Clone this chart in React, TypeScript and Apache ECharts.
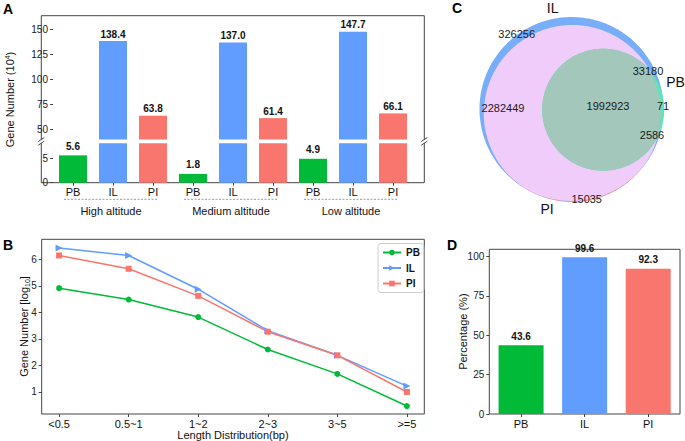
import React, { useEffect, useRef } from "react";
import * as echarts from "echarts";

// ---------- Data ----------
const groupNamesA = ["High altitude", "Medium altitude", "Low altitude"];
const speciesA = ["PB", "IL", "PI"];
const pbA = [5.6, 1.8, 4.9];
const ilA = [138.4, 137.0, 147.7];
const piA = [63.8, 61.4, 66.1];
const upperTicksA = [50, 75, 100, 125, 150];
const lowerTicksA = [0, 5];

const lengthCats = ["<0.5", "0.5~1", "1~2", "2~3", "3~5", ">=5"];
const pbB = [4.91, 4.48, 3.82, 2.6, 1.68, 0.47];
const ilB = [6.42, 6.14, 4.87, 3.31, 2.38, 1.22];
const piB = [6.14, 5.64, 4.62, 3.27, 2.38, 1.0];
const ticksB = [1, 2, 3, 4, 5, 6];

const vennSetNames = ["IL", "PB", "PI"];
const vennRegionCounts = [326256, 33180, 2282449, 1992923, 71, 2586, 15035];

const speciesD = ["PB", "IL", "PI"];
const pctD = [43.6, 99.6, 92.3];
const ticksD = [0, 25, 50, 75, 100];

// ---------- Styles ----------
const FONT = "'Liberation Sans', Arial, Helvetica, sans-serif";
const speciesColors: Record<string, string> = { PB: "#00BA38", IL: "#619CFF", PI: "#F8766D" };
const AX = "#444";

type Pt = [number, number];
function circlePts(cx: number, cy: number, r: number, n = 240): Pt[] {
  const pts: Pt[] = [];
  for (let i = 0; i < n; i++) {
    const t = (i / n) * Math.PI * 2;
    pts.push([cx + r * Math.cos(t), cy + r * Math.sin(t)]);
  }
  return pts;
}
function clipPoly(subject: Pt[], clipper: Pt[]): Pt[] {
  let output = subject;
  for (let i = 0; i < clipper.length; i++) {
    const a = clipper[i];
    const b = clipper[(i + 1) % clipper.length];
    const input = output;
    output = [];
    if (!input.length) break;
    const side = (p: Pt) => (b[0] - a[0]) * (p[1] - a[1]) - (b[1] - a[1]) * (p[0] - a[0]);
    const inter = (p: Pt, q: Pt): Pt => {
      const sp = side(p), sq = side(q);
      const t = sp / (sp - sq);
      return [p[0] + (q[0] - p[0]) * t, p[1] + (q[1] - p[1]) * t];
    };
    for (let j = 0; j < input.length; j++) {
      const cur = input[j];
      const prev = input[(j + input.length - 1) % input.length];
      const ci = side(cur) >= 0, pi = side(prev) >= 0;
      if (ci) {
        if (!pi) output.push(inter(prev, cur));
        output.push(cur);
      } else if (pi) output.push(inter(prev, cur));
    }
  }
  return output;
}

export default function App() {
  const ref = useRef<HTMLDivElement>(null);
  useEffect(() => {
    if (!ref.current) return;
    const chart = echarts.init(ref.current, undefined, { renderer: "svg" });

    // ----- Panel A layout -----
    const aL = 41.3, aR = 424.3, aT = 15.7, aB = 182.7, gU = 139.5, gL = 143.2;
    const aGridLeft = 53, aGridW = 360;
    const catsA: string[] = [];
    const valsA: { v: number; s: string }[] = [];
    groupNamesA.forEach((_, g) => {
      speciesA.forEach((s) => {
        catsA.push(s);
        const v = s === "PB" ? pbA[g] : s === "IL" ? ilA[g] : piA[g];
        valsA.push({ v, s });
      });
    });
    const lblStyle = { fontWeight: "bold" as const, fontSize: 10, color: "#111", fontFamily: FONT };
    const mkA = (showPB: boolean, dist: number) =>
      valsA.map(({ v, s }) => ({
        value: v,
        itemStyle: { color: speciesColors[s] },
        label: {
          show: showPB ? s === "PB" : s !== "PB",
          position: "top",
          distance: dist,
          formatter: (p: any) => Number(p.value).toFixed(1),
          ...lblStyle,
        },
      }));

    // ----- Panel B layout -----
    const bL = 41.7, bT = 239.3, bW = 382.6, bH = 174.7;
    // ----- Panel D layout -----
    const dL = 489.3, dT = 249.3, dW = 190.7, dH = 164.7;

    // ----- Venn -----
    const cIL = circlePts(571.5, 109, 92);
    const cPI = circlePts(572.3, 113.5, 88.5);
    const cPB = circlePts(603.2, 109.7, 61);
    const ilpi = clipPoly(cIL, cPI);
    const triple = clipPoly(clipPoly(cPB, cIL), cPI);
    const vennPos: Pt[] = [
      [516.7, 33.5], [648, 71], [503, 107.5], [608, 106], [663, 105.5], [652, 135], [586.7, 198.5],
    ];
    const setLabelPos: Pt[] = [[552.7, 7.5], [675.5, 82], [547, 209]];

    const tickLine = { show: true, length: 3, lineStyle: { color: AX, width: 1 } };
    const ticksLabel = { fontSize: 10, color: "#222", fontFamily: FONT };

    const txt = (x: number, y: number, text: string, extra: any = {}, rot = 0): any => ({
      type: "text",
      x,
      y,
      rotation: rot,
      silent: true,
      style: {
        text,
        fontFamily: FONT,
        fontSize: 11,
        fill: "#111",
        align: "center",
        verticalAlign: "middle",
        ...extra,
      },
    });
    const line = (x1: number, y1: number, x2: number, y2: number, extra: any = {}): any => ({
      type: "line",
      silent: true,
      shape: { x1, y1, x2, y2 },
      style: { stroke: AX, lineWidth: 1, ...extra },
    });

    const graphics: any[] = [];
    // Venn shapes
    graphics.push({ type: "polygon", silent: true, shape: { points: cPI }, style: { fill: "#F29490" } });
    graphics.push({ type: "polygon", silent: true, shape: { points: cIL }, style: { fill: "#78AEF8" } });
    graphics.push({ type: "polygon", silent: true, shape: { points: ilpi }, style: { fill: "#F0CCFB" } });
    graphics.push({ type: "polygon", silent: true, shape: { points: cPB }, style: { fill: "#5EE6B5" } });
    graphics.push({ type: "polygon", silent: true, shape: { points: triple }, style: { fill: "#A3C7BB" } });
    vennRegionCounts.forEach((c, i) => graphics.push(txt(vennPos[i][0], vennPos[i][1], String(c), { fontSize: 11, fill: "#1a1a1a" })));
    vennSetNames.forEach((n, i) => graphics.push(txt(setLabelPos[i][0], setLabelPos[i][1], n, { fontSize: 14, fill: "#111" })));

    // Panel A frame (broken axis)
    graphics.push(line(aL, aT, aR, aT));
    graphics.push(line(aL, aB, aR, aB));
    graphics.push(line(aL, aT, aL, gU));
    graphics.push(line(aL, gL, aL, aB));
    graphics.push(line(aR, aT, aR, gU));
    graphics.push(line(aR, gL, aR, aB));
    [aL, aR].forEach((x) => {
      graphics.push(line(x - 3, gU + 2, x + 3, gU - 2));
      graphics.push(line(x - 3, gL + 2, x + 3, gL - 2));
    });
    // group dashed lines & labels
    const catW = aGridW / catsA.length;
    groupNamesA.forEach((g, i) => {
      const cx = aGridLeft + (3 * i + 1.5) * catW - 2;
      graphics.push(line(cx - 47, 199.3, cx + 47, 199.3, { stroke: "#999", lineDash: [2, 1.5] }));
      graphics.push(txt(cx, 211, g, { fontSize: 11 }));
    });
    // axis titles
    graphics.push(
      txt(10, 99.5, "Gene Number (10{sup|4})", {
        fontSize: 11,
        rich: { sup: { fontSize: 7, verticalAlign: "top", padding: [0, 0, 6, 0], fontFamily: FONT } },
      }, Math.PI / 2)
    );
    graphics.push(
      txt(24, 326.5, "Gene Number [log{sub|10}]", {
        fontSize: 11,
        rich: { sub: { fontSize: 7, verticalAlign: "bottom", padding: [6, 0, 0, 0], fontFamily: FONT } },
      }, Math.PI / 2)
    );
    graphics.push(txt(bL + bW / 2, 434.5, "Length Distribution(bp)", { fontSize: 11 }));
    graphics.push(txt(463.3, dT + dH / 2, "Percentage (%)", { fontSize: 11 }, Math.PI / 2));
    // panel letters
    const letter = { fontSize: 14, fontWeight: "bold", fill: "#000" };
    graphics.push(txt(8, 9, "A", letter));
    graphics.push(txt(8, 245, "B", letter));
    graphics.push(txt(457, 8, "C", letter));
    graphics.push(txt(452, 245, "D", letter));

    const option: any = {
      animation: false,
      textStyle: { fontFamily: FONT },
      legend: {
        data: ["PB", "IL", "PI"],
        orient: "vertical",
        left: 378,
        top: 243.5,
        padding: [4, 4, 4, 4],
        itemWidth: 18,
        itemHeight: 7,
        itemGap: 5.5,
        borderColor: "#ccc",
        borderWidth: 1,
        borderRadius: 3,
        textStyle: { fontWeight: "bold", fontSize: 10, color: "#111", fontFamily: FONT, padding: [0, 0, 0, 0] },
      },
      grid: [
        { left: aGridLeft, width: aGridW, top: aT, height: gU - aT },
        { left: aGridLeft, width: aGridW, top: gL, height: aB - gL },
        { left: bL, width: bW, top: bT, height: bH, show: true, borderColor: AX, borderWidth: 1, backgroundColor: "transparent" },
        { left: dL, width: dW, top: dT, height: dH, show: true, borderColor: AX, borderWidth: 1, backgroundColor: "transparent" },
      ],
      xAxis: [
        { gridIndex: 0, type: "category", data: catsA, show: false },
        {
          gridIndex: 1,
          type: "category",
          data: catsA,
          axisLine: { show: false },
          axisTick: { ...tickLine, alignWithLabel: true },
          axisLabel: { fontSize: 11, color: "#111", margin: 4, fontFamily: FONT },
        },
        {
          gridIndex: 2,
          type: "value",
          min: -0.25,
          max: 5.25,
          splitLine: { show: false },
          axisLine: { show: false, onZero: false },
          axisTick: { ...tickLine, customValues: lengthCats.map((_, i) => i) },
          axisLabel: {
            customValues: lengthCats.map((_, i) => i),
            formatter: (v: number) => lengthCats[Math.round(v)] ?? "",
            fontSize: 11,
            color: "#111",
            margin: 4,
            fontFamily: FONT,
          },
        },
        {
          gridIndex: 3,
          type: "category",
          data: speciesD,
          axisLine: { show: false },
          axisTick: { ...tickLine, alignWithLabel: true },
          axisLabel: { fontSize: 11, color: "#111", margin: 4, fontFamily: FONT },
        },
      ],
      yAxis: [
        {
          gridIndex: 0,
          type: "value",
          min: 40,
          max: 40 + (gU - aT),
          splitLine: { show: false },
          axisLine: { show: false, onZero: false },
          axisTick: { ...tickLine, customValues: upperTicksA },
          axisLabel: { ...ticksLabel, customValues: upperTicksA, margin: 5 },
        },
        {
          gridIndex: 1,
          type: "value",
          min: 0,
          max: 8.09,
          splitLine: { show: false },
          axisLine: { show: false, onZero: false },
          axisTick: { ...tickLine, customValues: lowerTicksA },
          axisLabel: { ...ticksLabel, customValues: lowerTicksA, margin: 5 },
        },
        {
          gridIndex: 2,
          type: "value",
          min: 0.17,
          max: 6.75,
          splitLine: { show: false },
          axisLine: { show: false, onZero: false },
          axisTick: { ...tickLine, customValues: ticksB },
          axisLabel: { ...ticksLabel, customValues: ticksB, margin: 5 },
        },
        {
          gridIndex: 3,
          type: "value",
          min: 0,
          max: 104.58,
          splitLine: { show: false },
          axisLine: { show: false, onZero: false },
          axisTick: { ...tickLine, customValues: ticksD },
          axisLabel: { ...ticksLabel, customValues: ticksD, margin: 5 },
        },
      ],
      series: [
        { type: "bar", xAxisIndex: 0, yAxisIndex: 0, barWidth: 28, clip: true, data: mkA(false, 2) },
        { type: "bar", xAxisIndex: 1, yAxisIndex: 1, barWidth: 28, clip: true, data: mkA(true, 4) },
        {
          name: "PB", type: "line", xAxisIndex: 2, yAxisIndex: 2,
          data: pbB.map((v, i) => [i, v]), symbol: "circle", symbolSize: 6,
          itemStyle: { color: speciesColors.PB }, lineStyle: { color: speciesColors.PB, width: 1.5 },
        },
        {
          name: "IL", type: "line", xAxisIndex: 2, yAxisIndex: 2,
          data: ilB.map((v, i) => [i, v]), symbol: "triangle", symbolRotate: -90, symbolSize: 7,
          itemStyle: { color: speciesColors.IL }, lineStyle: { color: speciesColors.IL, width: 1.5 },
        },
        {
          name: "PI", type: "line", xAxisIndex: 2, yAxisIndex: 2,
          data: piB.map((v, i) => [i, v]), symbol: "rect", symbolSize: 6,
          itemStyle: { color: speciesColors.PI }, lineStyle: { color: speciesColors.PI, width: 1.5 },
        },
        {
          type: "bar", xAxisIndex: 3, yAxisIndex: 3, barWidth: 45,
          data: pctD.map((v, i) => ({ value: v, itemStyle: { color: speciesColors[speciesD[i]] } })),
          label: { show: true, position: "top", distance: 4, formatter: (p: any) => Number(p.value).toFixed(1), ...lblStyle },
        },
      ],
      graphic: graphics,
    };
    chart.setOption(option);
    return () => chart.dispose();
  }, []);
  return <div ref={ref} style={{ position: "absolute", left: 0, top: 0, width: 685, height: 441 }} />;
}
